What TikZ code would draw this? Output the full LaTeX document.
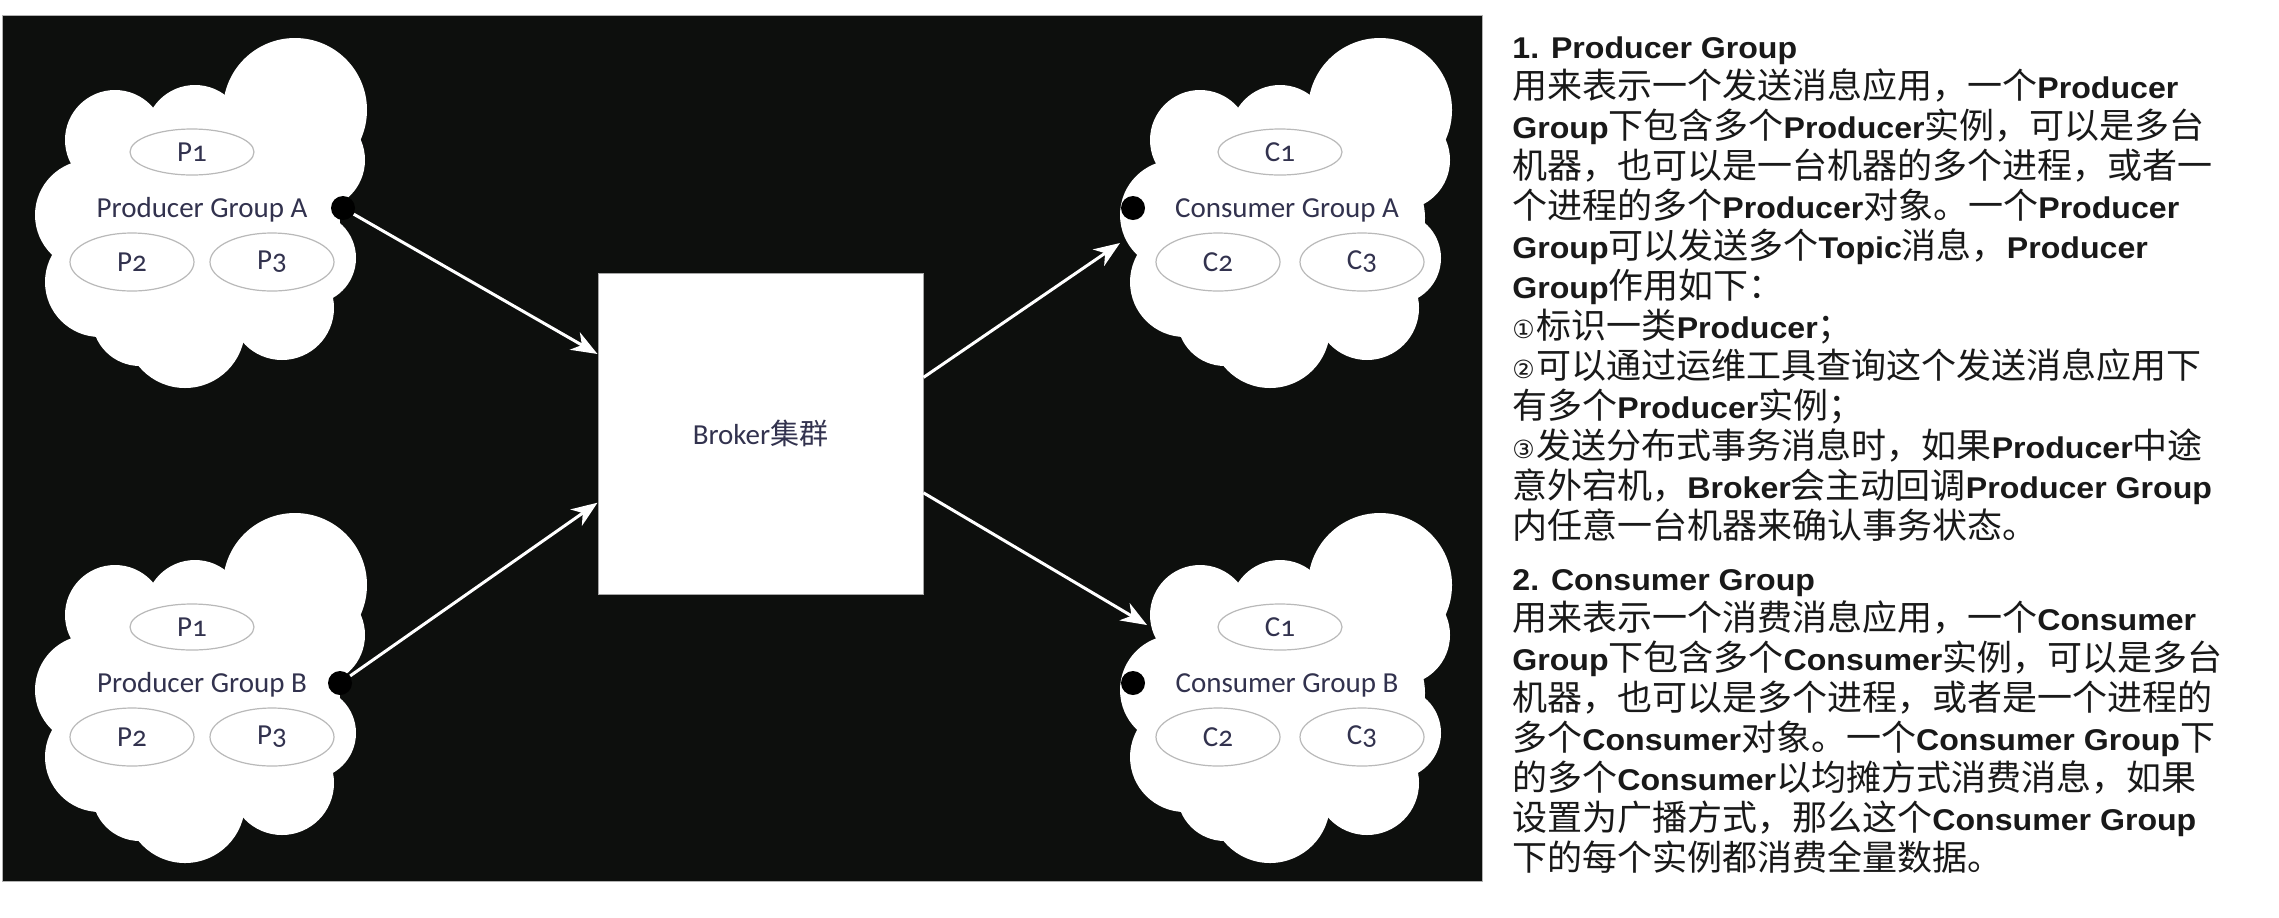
\documentclass[tikz,border=0pt]{standalone}
\usepackage{fontspec}
\usetikzlibrary{arrows.meta,shapes.geometric,calc}
\setmainfont{Liberation Sans}
\newfontfamily\cjkfont{Noto Sans CJK SC}
\newfontfamily\latfont[FakeStretch=1.07]{Liberation Sans}
\newfontfamily\diafont[Numbers=OldStyle]{Carlito}
\newfontfamily\symfont{DejaVu Sans}
\newcommand\lt[1]{{\latfont\bfseries\fontsize{15}{18}\selectfont #1}}
\newcommand\cn[1]{{\symfont\fontsize{12.5}{15}\selectfont #1\hspace{1pt}}}
\definecolor{bg}{RGB}{13,15,13}
\definecolor{lbl}{RGB}{50,50,78}
\definecolor{ell}{RGB}{185,185,185}
\definecolor{txt}{RGB}{25,25,25}
\tikzset{
  cloudpic/.pic={
    \fill[white] (93,-100) circle[radius=72];
    \fill[white] (-7,-75) circle[radius=50];
    \fill[white] (-87,-70) circle[radius=50];
    \fill[white] (-112,5) circle[radius=55];
    \fill[white] (-102,72) circle[radius=55];
    \fill[white] (-62,108) circle[radius=48];
    \fill[white] (-17,118) circle[radius=60];
    \fill[white] (80,98) circle[radius=52];
    \fill[white] (108,48) circle[radius=46];
    \fill[white] (113,-50) circle[radius=50];
    \fill[white] (0,8) ellipse[x radius=138, y radius=95];
  },
  grouplabel/.style={font=\diafont\fontsize{14.5}{17}\selectfont, text=lbl, inner sep=0pt},
  member/.style={ellipse, draw=ell, line width=0.6pt, fill=white, minimum width=62pt,
    minimum height=29pt, inner sep=0pt, font=\diafont\fontsize{14.5}{17}\selectfont, text=lbl},
  dotnode/.style={circle, fill=black, minimum size=12pt, inner sep=0pt},
  flow/.style={draw=white, line width=1.5pt, -{Stealth[length=13pt,width=10pt,inset=4pt]}},
  txtline/.style={anchor=base west, inner sep=0pt, font=\cjkfont\fontsize{17.5}{20}\selectfont, text=txt},
}
\begin{document}
\begin{tikzpicture}[x=0.5pt,y=-0.5pt]
\useasboundingbox (0,0) rectangle (2279,917);
\fill[white] (0,0) rectangle (2279,917);
\fill[bg, draw=gray!60, line width=0.4pt] (2,15) rectangle (1482,881);

% Producer Group A
\pic at (202,210) {cloudpic};
\node[grouplabel] (pga) at (202,210) {Producer Group A};
\node[member, minimum height=23pt] (pga1) at (192,152) {P1};
\node[member] (pga2) at (132,262) {P2};
\node[member] (pga3) at (272,262) {P3};
\node[dotnode] (pgad) at (343,208) {};

% Producer Group B
\pic at (202,685) {cloudpic};
\node[grouplabel] (pgb) at (202,685) {Producer Group B};
\node[member, minimum height=23pt] (pgb1) at (192,627) {P1};
\node[member] (pgb2) at (132,737) {P2};
\node[member] (pgb3) at (272,737) {P3};
\node[dotnode] (pgbd) at (340,683) {};

% Consumer Group A
\pic at (1287,210) {cloudpic};
\node[grouplabel] (cga) at (1287,210) {Consumer Group A};
\node[member, minimum height=23pt] (cga1) at (1280,152) {C1};
\node[member] (cga2) at (1218,262) {C2};
\node[member] (cga3) at (1362,262) {C3};
\node[dotnode] (cgad) at (1133,208) {};

% Consumer Group B
\pic at (1287,685) {cloudpic};
\node[grouplabel] (cgb) at (1287,685) {Consumer Group B};
\node[member, minimum height=23pt] (cgb1) at (1280,627) {C1};
\node[member] (cgb2) at (1218,737) {C2};
\node[member] (cgb3) at (1362,737) {C3};
\node[dotnode] (cgbd) at (1133,683) {};

% Broker
\node[draw=gray!70, line width=0.5pt, fill=white, minimum width=162.5pt, minimum height=160.5pt,
  inner sep=0pt, font=\diafont\fontsize{14.5}{17}\selectfont, text=lbl] (broker) at (760.5,433.5)
  {Broker{\cjkfont 集群}};

\coordinate (caIn) at (1120,243);
\coordinate (cbIn) at (1147,625);

\draw[flow] (pgad) -- (broker.154);
\draw[flow] (pgbd) -- (broker.203);
\draw[flow] (broker.19) -- (caIn);
\draw[flow] (broker.-20) -- (cbIn);

% Text panel
\node[txtline] (t1) at (1512,58) {\lt{1. Producer Group}};
\node[txtline] (t2) at (1512,98) {用来表示一个发送消息应用，一个\lt{Producer}};
\node[txtline] (t3) at (1512,138) {\lt{Group}下包含多个\lt{Producer}实例，可以是多台};
\node[txtline] (t4) at (1512,178) {机器，也可以是一台机器的多个进程，或者一};
\node[txtline] (t5) at (1512,218) {个进程的多个\lt{Producer}对象。一个\lt{Producer}};
\node[txtline] (t6) at (1512,258) {\lt{Group}可以发送多个\lt{Topic}消息，\lt{Producer}};
\node[txtline] (t7) at (1512,298) {\lt{Group}作用如下：};
\node[txtline] (t8) at (1512,338) {\cn{①}标识一类\lt{Producer}；};
\node[txtline] (t9) at (1512,378) {\cn{②}可以通过运维工具查询这个发送消息应用下};
\node[txtline] (t10) at (1512,418) {有多个\lt{Producer}实例；};
\node[txtline] (t11) at (1512,458) {\cn{③}发送分布式事务消息时，如果\lt{Producer}中途};
\node[txtline] (t12) at (1512,498) {意外宕机，\lt{Broker}会主动回调\lt{Producer Group}};
\node[txtline] (t13) at (1512,538) {内任意一台机器来确认事务状态。};

\node[txtline] (s1) at (1512,590) {\lt{2. Consumer Group}};
\node[txtline] (s2) at (1512,630) {用来表示一个消费消息应用，一个\lt{Consumer}};
\node[txtline] (s3) at (1512,670) {\lt{Group}下包含多个\lt{Consumer}实例，可以是多台};
\node[txtline] (s4) at (1512,710) {机器，也可以是多个进程，或者是一个进程的};
\node[txtline] (s5) at (1512,750) {多个\lt{Consumer}对象。一个\lt{Consumer Group}下};
\node[txtline] (s6) at (1512,790) {的多个\lt{Consumer}以均摊方式消费消息，如果};
\node[txtline] (s7) at (1512,830) {设置为广播方式，那么这个\lt{Consumer Group}};
\node[txtline] (s8) at (1512,870) {下的每个实例都消费全量数据。};
\end{tikzpicture}
\end{document}
